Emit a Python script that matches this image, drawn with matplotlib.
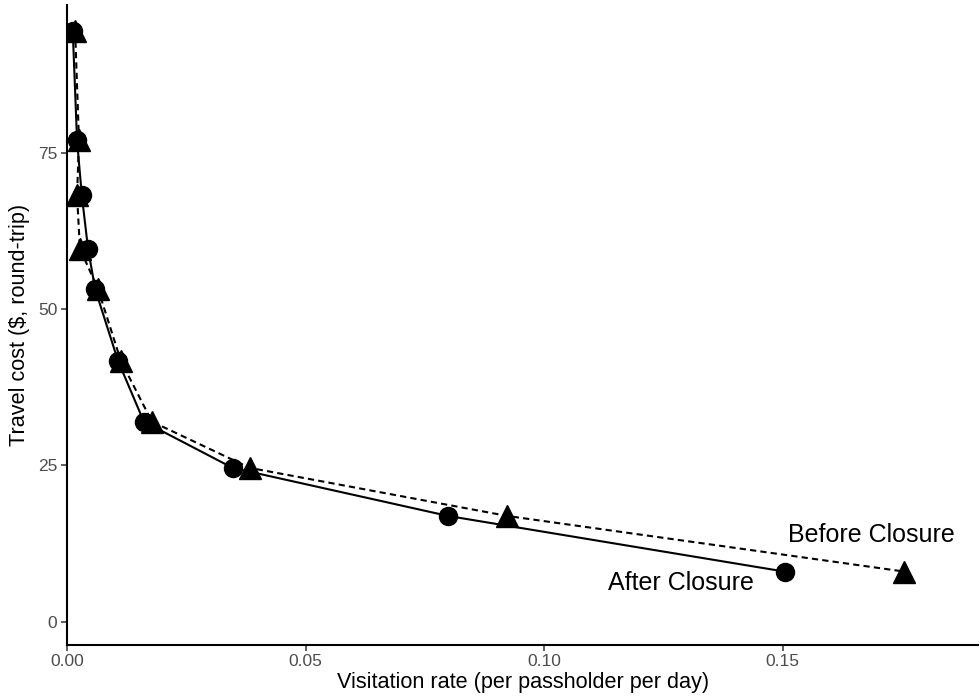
import matplotlib.pyplot as plt

# travel cost per zone ($, round-trip), shared by both periods
cost = [94.5, 77.0, 68.2, 59.7, 53.2, 41.7, 32.0, 24.6, 16.9, 8.0]

# visitation rate per passholder per day
rate_after = [0.0012, 0.0021, 0.0031, 0.0044, 0.0059, 0.0107, 0.0161, 0.0347, 0.0799, 0.1504]
rate_before = [0.0017, 0.0025, 0.0021, 0.0027, 0.0065, 0.0113, 0.0178, 0.0383, 0.0923, 0.1755]

x_ticks = [0.00, 0.05, 0.10, 0.15]
x_labels = ["0.00", "0.05", "0.10", "0.15"]
y_ticks = [0, 25, 50, 75]

plt.rcParams['font.family'] = ['Liberation Sans', 'DejaVu Sans']

fig = plt.figure(figsize=(9.8, 7), dpi=100)
ax = fig.add_axes([0.0684, 0.079, 0.93, 0.914])

ax.plot(rate_before, cost, color='black', linestyle=(0, (3, 2)), linewidth=1.5,
        marker='^', markersize=16, zorder=2)
ax.plot(rate_after, cost, color='black', linestyle='-', linewidth=1.5,
        marker='o', markersize=13, zorder=3)

ax.text(0.1686, 13.9, "Before Closure", fontsize=18, ha='center', va='center')
ax.text(0.1287, 6.2, "After Closure", fontsize=18, ha='center', va='center')

ax.set_xlim(0, 0.191)
ax.set_ylim(-3.7, 98.7)
ax.set_xticks(x_ticks)
ax.set_xticklabels(x_labels)
ax.set_yticks(y_ticks)

for side in ['top', 'right']:
    ax.spines[side].set_visible(False)
for side in ['left', 'bottom']:
    ax.spines[side].set_linewidth(1.5)

ax.tick_params(axis='both', labelsize=12.5, labelcolor='#4D4D4D', color='#333333',
               length=4, width=1.1, pad=3)

ax.set_xlabel("Visitation rate (per passholder per day)", fontsize=15.6, labelpad=2)
ax.set_ylabel("Travel cost ($, round-trip)", fontsize=15.6, labelpad=6)

fig.savefig("out.png", dpi=100)
